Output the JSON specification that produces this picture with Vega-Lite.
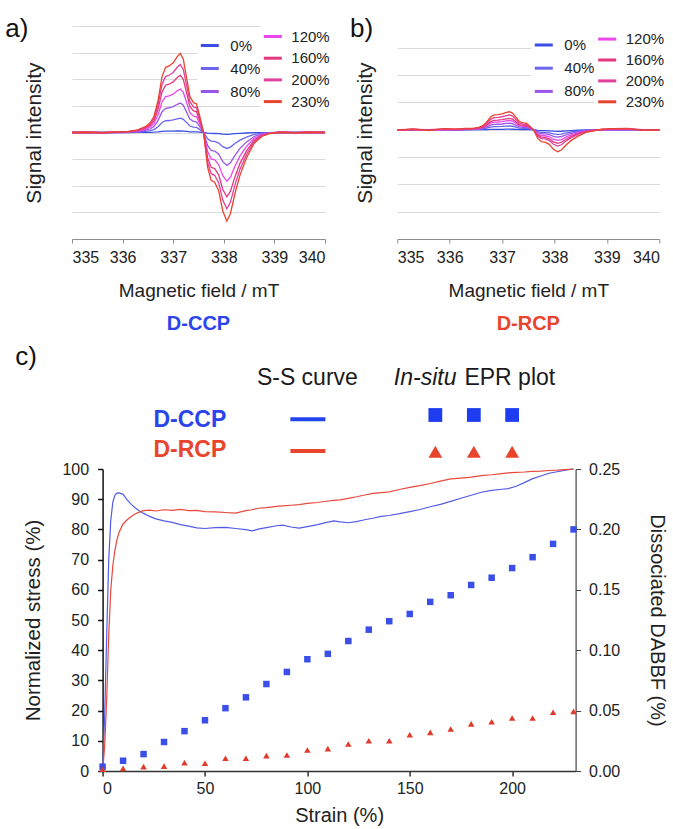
{
"$schema": "https://vega.github.io/schema/vega-lite/v6.json",
"padding": {"left": 5, "top": 16, "right": 4, "bottom": 4},
"background": "white",
"config": {
  "font": "Liberation Sans",
  "view": {"stroke": null},
  "axis": {"titleFontWeight": "normal", "labelColor": "#222222", "titleColor": "#222222", "labelFont": "Liberation Sans", "titleFont": "Liberation Sans"},
  "legend": {"labelFont": "Liberation Sans", "labelColor": "#222222"},
  "title": {"font": "Liberation Sans"},
  "text": {"font": "Liberation Sans"}
},
"datasets": {
  "a": [
    {"f":335.0,"0%":0,"40%":0,"80%":0,"120%":0,"160%":0,"200%":0,"230%":0},
    {"f":335.3,"0%":0,"40%":0,"80%":0,"120%":0.01,"160%":0.01,"200%":0.01,"230%":0.01},
    {"f":335.6,"0%":0,"40%":0,"80%":0,"120%":-0.01,"160%":-0.01,"200%":-0.01,"230%":-0.01},
    {"f":335.9,"0%":0,"40%":0,"80%":0.01,"120%":0.01,"160%":0.01,"200%":0.02,"230%":0.02},
    {"f":336.1,"0%":0,"40%":0.01,"80%":0.01,"120%":0.02,"160%":0.02,"200%":0.03,"230%":0.03},
    {"f":336.3,"0%":0.002,"40%":0.018,"80%":0.037,"120%":0.055,"160%":0.073,"200%":0.086,"230%":0.1},
    {"f":336.45,"0%":0.004,"40%":0.04,"80%":0.082,"120%":0.121,"160%":0.16,"200%":0.189,"230%":0.22},
    {"f":336.55,"0%":0.008,"40%":0.068,"80%":0.141,"120%":0.209,"160%":0.276,"200%":0.327,"230%":0.38},
    {"f":336.62,"0%":0.012,"40%":0.108,"80%":0.223,"120%":0.33,"160%":0.435,"200%":0.516,"230%":0.6},
    {"f":336.7,"0%":0.024,"40%":0.216,"80%":0.446,"120%":0.66,"160%":0.87,"200%":1.032,"230%":1.2},
    {"f":336.78,"0%":0.042,"40%":0.378,"80%":0.781,"120%":1.155,"160%":1.523,"200%":1.806,"230%":2.1},
    {"f":336.85,"0%":0.049,"40%":0.441,"80%":0.911,"120%":1.348,"160%":1.776,"200%":2.107,"230%":2.45},
    {"f":336.92,"0%":0.05,"40%":0.45,"80%":0.93,"120%":1.375,"160%":1.813,"200%":2.15,"230%":2.5},
    {"f":337.0,"0%":0.052,"40%":0.472,"80%":0.975,"120%":1.441,"160%":1.9,"200%":2.253,"230%":2.62},
    {"f":337.08,"0%":0.057,"40%":0.513,"80%":1.06,"120%":1.568,"160%":2.066,"200%":2.451,"230%":2.85},
    {"f":337.14,"0%":0.059,"40%":0.535,"80%":1.105,"120%":1.634,"160%":2.153,"200%":2.554,"230%":2.97},
    {"f":337.2,"0%":0.055,"40%":0.495,"80%":1.023,"120%":1.513,"160%":1.994,"200%":2.365,"230%":2.75},
    {"f":337.27,"0%":0.04,"40%":0.36,"80%":0.744,"120%":1.1,"160%":1.45,"200%":1.72,"230%":2.0},
    {"f":337.33,"0%":0.027,"40%":0.243,"80%":0.502,"120%":0.743,"160%":0.979,"200%":1.161,"230%":1.35},
    {"f":337.4,"0%":0.022,"40%":0.202,"80%":0.417,"120%":0.616,"160%":0.812,"200%":0.963,"230%":1.12},
    {"f":337.46,"0%":0.022,"40%":0.194,"80%":0.402,"120%":0.594,"160%":0.783,"200%":0.929,"230%":1.08},
    {"f":337.52,"0%":0.013,"40%":0.117,"80%":0.242,"120%":0.358,"160%":0.471,"200%":0.559,"230%":0.65},
    {"f":337.6,"0%":0,"40%":0,"80%":0,"120%":0,"160%":0,"200%":0,"230%":0},
    {"f":337.68,"0%":-0.026,"40%":-0.234,"80%":-0.484,"120%":-0.715,"160%":-0.943,"200%":-1.118,"230%":-1.3},
    {"f":337.75,"0%":-0.036,"40%":-0.324,"80%":-0.67,"120%":-0.99,"160%":-1.305,"200%":-1.548,"230%":-1.8},
    {"f":337.82,"0%":-0.037,"40%":-0.337,"80%":-0.696,"120%":-1.029,"160%":-1.356,"200%":-1.608,"230%":-1.87},
    {"f":337.9,"0%":-0.044,"40%":-0.396,"80%":-0.818,"120%":-1.21,"160%":-1.595,"200%":-1.892,"230%":-2.2},
    {"f":337.98,"0%":-0.059,"40%":-0.531,"80%":-1.097,"120%":-1.623,"160%":-2.139,"200%":-2.537,"230%":-2.95},
    {"f":338.06,"0%":-0.067,"40%":-0.599,"80%":-1.239,"120%":-1.832,"160%":-2.414,"200%":-2.864,"230%":-3.33},
    {"f":338.13,"0%":-0.061,"40%":-0.549,"80%":-1.135,"120%":-1.678,"160%":-2.211,"200%":-2.623,"230%":-3.05},
    {"f":338.22,"0%":-0.046,"40%":-0.414,"80%":-0.856,"120%":-1.265,"160%":-1.668,"200%":-1.978,"230%":-2.3},
    {"f":338.32,"0%":-0.032,"40%":-0.288,"80%":-0.595,"120%":-0.88,"160%":-1.16,"200%":-1.376,"230%":-1.6},
    {"f":338.45,"0%":-0.019,"40%":-0.171,"80%":-0.353,"120%":-0.523,"160%":-0.689,"200%":-0.817,"230%":-0.95},
    {"f":338.6,"0%":-0.008,"40%":-0.072,"80%":-0.149,"120%":-0.22,"160%":-0.29,"200%":-0.344,"230%":-0.4},
    {"f":338.75,"0%":-0.003,"40%":-0.027,"80%":-0.056,"120%":-0.083,"160%":-0.109,"200%":-0.129,"230%":-0.15},
    {"f":338.9,"0%":-0.001,"40%":-0.007,"80%":-0.015,"120%":-0.022,"160%":-0.029,"200%":-0.034,"230%":-0.04},
    {"f":339.1,"0%":0,"40%":0,"80%":0,"120%":0.01,"160%":0.01,"200%":0.01,"230%":0.01},
    {"f":339.4,"0%":0,"40%":0,"80%":0,"120%":-0.01,"160%":-0.01,"200%":-0.01,"230%":-0.01},
    {"f":339.7,"0%":0,"40%":0,"80%":0,"120%":0.01,"160%":0.01,"200%":0.01,"230%":0.01},
    {"f":340.0,"0%":0,"40%":0,"80%":0,"120%":0,"160%":0,"200%":0,"230%":0}
  ],
  "b": [
    {"f":335.0,"0%":0,"40%":0,"80%":0,"120%":0,"160%":0,"200%":-0.01,"230%":-0.02},
    {"f":335.3,"0%":0,"40%":0,"80%":0,"120%":0,"160%":0.01,"200%":0.02,"230%":0.03},
    {"f":335.6,"0%":0,"40%":0,"80%":0,"120%":0,"160%":0,"200%":-0.01,"230%":-0.03},
    {"f":335.9,"0%":0,"40%":0,"80%":0,"120%":0.01,"160%":0.02,"200%":0.03,"230%":0.04},
    {"f":336.1,"0%":0,"40%":0,"80%":0,"120%":0,"160%":0.01,"200%":0.02,"230%":0.02},
    {"f":336.3,"0%":0.001,"40%":0.005,"80%":0.008,"120%":0.011,"160%":0.014,"200%":0.018,"230%":0.05},
    {"f":336.45,"0%":0.002,"40%":0.01,"80%":0.018,"120%":0.025,"160%":0.031,"200%":0.04,"230%":0.049},
    {"f":336.55,"0%":0.003,"40%":0.018,"80%":0.031,"120%":0.043,"160%":0.054,"200%":0.069,"230%":0.084},
    {"f":336.62,"0%":0.004,"40%":0.028,"80%":0.049,"120%":0.068,"160%":0.085,"200%":0.109,"230%":0.133},
    {"f":336.7,"0%":0.008,"40%":0.056,"80%":0.097,"120%":0.137,"160%":0.169,"200%":0.218,"230%":0.266},
    {"f":336.78,"0%":0.015,"40%":0.099,"80%":0.17,"120%":0.239,"160%":0.296,"200%":0.382,"230%":0.466},
    {"f":336.85,"0%":0.017,"40%":0.115,"80%":0.198,"120%":0.279,"160%":0.345,"200%":0.446,"230%":0.544},
    {"f":336.92,"0%":0.018,"40%":0.118,"80%":0.203,"120%":0.285,"160%":0.353,"200%":0.455,"230%":0.555},
    {"f":337.0,"0%":0.018,"40%":0.123,"80%":0.212,"120%":0.299,"160%":0.369,"200%":0.477,"230%":0.582},
    {"f":337.08,"0%":0.02,"40%":0.134,"80%":0.231,"120%":0.325,"160%":0.402,"200%":0.519,"230%":0.633},
    {"f":337.14,"0%":0.021,"40%":0.14,"80%":0.241,"120%":0.339,"160%":0.419,"200%":0.541,"230%":0.659},
    {"f":337.2,"0%":0.019,"40%":0.129,"80%":0.223,"120%":0.314,"160%":0.388,"200%":0.501,"230%":0.611},
    {"f":337.27,"0%":0.014,"40%":0.094,"80%":0.162,"120%":0.228,"160%":0.282,"200%":0.364,"230%":0.444},
    {"f":337.33,"0%":0.009,"40%":0.063,"80%":0.109,"120%":0.154,"160%":0.19,"200%":0.246,"230%":0.3},
    {"f":337.4,"0%":0.008,"40%":0.053,"80%":0.091,"120%":0.128,"160%":0.158,"200%":0.204,"230%":0.249},
    {"f":337.46,"0%":0.008,"40%":0.051,"80%":0.087,"120%":0.123,"160%":0.152,"200%":0.197,"230%":0.24},
    {"f":337.52,"0%":0.005,"40%":0.031,"80%":0.053,"120%":0.074,"160%":0.092,"200%":0.118,"230%":0.144},
    {"f":337.6,"0%":0,"40%":0,"80%":0,"120%":0,"160%":0,"200%":0,"230%":0},
    {"f":337.68,"0%":-0.023,"40%":-0.066,"80%":-0.105,"120%":-0.152,"160%":-0.195,"200%":-0.234,"230%":-0.316},
    {"f":337.75,"0%":-0.032,"40%":-0.092,"80%":-0.146,"120%":-0.211,"160%":-0.27,"200%":-0.324,"230%":-0.437},
    {"f":337.82,"0%":-0.034,"40%":-0.095,"80%":-0.151,"120%":-0.219,"160%":-0.281,"200%":-0.337,"230%":-0.454},
    {"f":337.9,"0%":-0.04,"40%":-0.112,"80%":-0.178,"120%":-0.257,"160%":-0.33,"200%":-0.396,"230%":-0.535},
    {"f":337.98,"0%":-0.053,"40%":-0.15,"80%":-0.239,"120%":-0.345,"160%":-0.443,"200%":-0.531,"230%":-0.717},
    {"f":338.06,"0%":-0.06,"40%":-0.17,"80%":-0.27,"120%":-0.39,"160%":-0.5,"200%":-0.599,"230%":-0.809},
    {"f":338.13,"0%":-0.055,"40%":-0.156,"80%":-0.247,"120%":-0.357,"160%":-0.458,"200%":-0.549,"230%":-0.741},
    {"f":338.22,"0%":-0.041,"40%":-0.117,"80%":-0.186,"120%":-0.269,"160%":-0.345,"200%":-0.414,"230%":-0.559},
    {"f":338.32,"0%":-0.029,"40%":-0.082,"80%":-0.13,"120%":-0.187,"160%":-0.24,"200%":-0.288,"230%":-0.389},
    {"f":338.45,"0%":-0.017,"40%":-0.048,"80%":-0.077,"120%":-0.111,"160%":-0.143,"200%":-0.171,"230%":-0.231},
    {"f":338.6,"0%":-0.007,"40%":-0.02,"80%":-0.032,"120%":-0.047,"160%":-0.06,"200%":-0.072,"230%":-0.097},
    {"f":338.75,"0%":-0.003,"40%":-0.008,"80%":-0.012,"120%":-0.018,"160%":-0.023,"200%":-0.027,"230%":-0.036},
    {"f":338.9,"0%":0,"40%":0,"80%":0,"120%":0,"160%":0,"200%":0.01,"230%":0.02},
    {"f":339.1,"0%":0,"40%":0,"80%":0,"120%":0.01,"160%":0.02,"200%":0.03,"230%":0.04},
    {"f":339.4,"0%":0,"40%":0,"80%":0,"120%":0.01,"160%":0.02,"200%":0.04,"230%":0.05},
    {"f":339.7,"0%":0,"40%":0,"80%":0,"120%":0,"160%":0,"200%":-0.01,"230%":-0.02},
    {"f":340.0,"0%":0,"40%":0,"80%":0,"120%":0,"160%":0,"200%":0,"230%":0}
  ],
  "ss": [
    {"s":0,"D-CCP":0,"D-RCP":0},{"s":1,"D-CCP":18,"D-RCP":8},{"s":2,"D-CCP":45,"D-RCP":24},{"s":3,"D-CCP":70,"D-RCP":45},
    {"s":4,"D-CCP":83,"D-RCP":60},{"s":5,"D-CCP":89,"D-RCP":68},{"s":6,"D-CCP":91.3,"D-RCP":73},{"s":7,"D-CCP":92,"D-RCP":76.5},
    {"s":8,"D-CCP":92.1,"D-RCP":79},{"s":10,"D-CCP":91.6,"D-RCP":81.8},{"s":12,"D-CCP":89.8,"D-RCP":83.2},{"s":14,"D-CCP":88.3,"D-RCP":84.3},
    {"s":16,"D-CCP":87.1,"D-RCP":85.2},{"s":18,"D-CCP":86.1,"D-RCP":85.7},{"s":20,"D-CCP":85.3,"D-RCP":86.2},{"s":23,"D-CCP":84.3,"D-RCP":86.4},
    {"s":26,"D-CCP":83.5,"D-RCP":86.1},{"s":30,"D-CCP":82.8,"D-RCP":86.5},{"s":34,"D-CCP":82.3,"D-RCP":86.3},{"s":38,"D-CCP":81.6,"D-RCP":86.6},
    {"s":42,"D-CCP":81.1,"D-RCP":86.2},{"s":46,"D-CCP":80.5,"D-RCP":86.3},{"s":50,"D-CCP":80.3,"D-RCP":85.9},{"s":55,"D-CCP":80.6,"D-RCP":85.8},
    {"s":60,"D-CCP":80.7,"D-RCP":85.6},{"s":65,"D-CCP":80.3,"D-RCP":85.4},{"s":70,"D-CCP":79.9,"D-RCP":86.2},{"s":73,"D-CCP":79.5,"D-RCP":86.5},
    {"s":76,"D-CCP":80.1,"D-RCP":87.0},{"s":80,"D-CCP":80.6,"D-RCP":87.2},{"s":85,"D-CCP":81.2,"D-RCP":87.6},{"s":88,"D-CCP":81.4,"D-RCP":87.8},
    {"s":92,"D-CCP":80.8,"D-RCP":88.0},{"s":96,"D-CCP":80.4,"D-RCP":88.2},{"s":100,"D-CCP":80.9,"D-RCP":88.6},{"s":105,"D-CCP":81.6,"D-RCP":88.9},
    {"s":110,"D-CCP":82.4,"D-RCP":89.4},{"s":113,"D-CCP":82.8,"D-RCP":89.6},{"s":116,"D-CCP":82.5,"D-RCP":89.8},{"s":120,"D-CCP":82.2,"D-RCP":90.3},
    {"s":124,"D-CCP":82.6,"D-RCP":90.8},{"s":128,"D-CCP":83.2,"D-RCP":91.4},{"s":132,"D-CCP":83.7,"D-RCP":91.9},{"s":136,"D-CCP":84.3,"D-RCP":92.2},
    {"s":140,"D-CCP":84.6,"D-RCP":92.4},{"s":145,"D-CCP":85.2,"D-RCP":93.2},{"s":150,"D-CCP":85.9,"D-RCP":93.9},{"s":155,"D-CCP":86.6,"D-RCP":94.5},
    {"s":160,"D-CCP":87.5,"D-RCP":95.2},{"s":165,"D-CCP":88.3,"D-RCP":96.0},{"s":170,"D-CCP":89.3,"D-RCP":96.7},{"s":175,"D-CCP":90.3,"D-RCP":97.0},
    {"s":180,"D-CCP":91.3,"D-RCP":97.3},{"s":185,"D-CCP":92.3,"D-RCP":97.8},{"s":190,"D-CCP":92.9,"D-RCP":98.1},{"s":195,"D-CCP":93.3,"D-RCP":98.5},
    {"s":198,"D-CCP":93.5,"D-RCP":98.7},{"s":202,"D-CCP":94.3,"D-RCP":98.9},{"s":206,"D-CCP":95.5,"D-RCP":99.0},{"s":210,"D-CCP":96.8,"D-RCP":99.2},
    {"s":214,"D-CCP":97.7,"D-RCP":99.3},{"s":218,"D-CCP":98.6,"D-RCP":99.5},{"s":222,"D-CCP":99.1,"D-RCP":99.6},{"s":226,"D-CCP":99.6,"D-RCP":99.8},
    {"s":230,"D-CCP":100,"D-RCP":100}
  ],
  "epr": [
    {"s":0,"D-CCP":0.0036,"D-RCP":0.0014},{"s":10,"D-CCP":0.0085,"D-RCP":0.0022},{"s":20,"D-CCP":0.014,"D-RCP":0.0036},
    {"s":30,"D-CCP":0.024,"D-RCP":0.004},{"s":40,"D-CCP":0.033,"D-RCP":0.0069},{"s":50,"D-CCP":0.042,"D-RCP":0.0064},
    {"s":60,"D-CCP":0.052,"D-RCP":0.0105},{"s":70,"D-CCP":0.061,"D-RCP":0.0105},{"s":80,"D-CCP":0.072,"D-RCP":0.0127},
    {"s":90,"D-CCP":0.082,"D-RCP":0.0132},{"s":100,"D-CCP":0.0925,"D-RCP":0.0174},{"s":110,"D-CCP":0.097,"D-RCP":0.0185},
    {"s":120,"D-CCP":0.1076,"D-RCP":0.0224},{"s":130,"D-CCP":0.117,"D-RCP":0.025},{"s":140,"D-CCP":0.124,"D-RCP":0.025},
    {"s":150,"D-CCP":0.13,"D-RCP":0.03},{"s":160,"D-CCP":0.14,"D-RCP":0.032},{"s":170,"D-CCP":0.1455,"D-RCP":0.0348},
    {"s":180,"D-CCP":0.154,"D-RCP":0.039},{"s":190,"D-CCP":0.16,"D-RCP":0.0408},{"s":200,"D-CCP":0.168,"D-RCP":0.0439},
    {"s":210,"D-CCP":0.177,"D-RCP":0.0439},{"s":220,"D-CCP":0.188,"D-RCP":0.0486},{"s":230,"D-CCP":0.2,"D-RCP":0.0494}
  ]
},
"bounds": "flush",
"spacing": 314,
"vconcat": [
  {
    "bounds": "flush",
    "spacing": 72.3,
    "hconcat": [
      {
        "width": 253, "height": 213,
        "title": {"text": "D-CCP", "orient": "bottom", "anchor": "middle", "fontSize": 20, "fontWeight": "bold", "color": "#2a45ea", "offset": 13.5},
        "encoding": {
          "x": {"field": "f", "type": "quantitative", "scale": {"domain": [335, 340], "nice": false, "zero": false},
                "axis": {"values": [335, 336, 337, 338, 339, 340], "grid": false, "domainColor": "#8c8c8c", "tickColor": "#8c8c8c", "tickSize": 4, "labelFontSize": 16, "labelPadding": 6, "title": "Magnetic field / mT", "titleFontSize": 19, "titlePadding": 16}},
          "y": {"field": "v", "type": "quantitative", "scale": {"domain": [-4, 4], "nice": false, "zero": false},
                "axis": {"values": [-3, -2, -1, 0, 1, 2, 3, 4], "labels": false, "ticks": false, "domain": false, "grid": true, "gridColor": "#dadada", "title": "Signal intensity", "titleFontSize": 21, "titlePadding": 28}}
        },
        "layer": [
          {
            "data": {"name": "a"},
            "transform": [{"fold": ["0%", "40%", "80%", "120%", "160%", "200%", "230%"], "as": ["strain", "v"]}, {"filter": {"field": "strain", "oneOf": ["0%", "40%", "80%"]}}],
            "mark": {"type": "line", "strokeWidth": 1.3},
            "encoding": {"color": {"field": "strain", "type": "nominal", "scale": {"domain": ["0%", "40%", "80%"], "range": ["#3a4ee6", "#6b66ec", "#9a56e6"]},
              "legend": {"title": null, "orient": "none", "legendX": 125.3, "legendY": 7, "symbolType": "stroke", "symbolSize": 324, "symbolStrokeWidth": 3, "labelFontSize": 15, "labelOffset": 10, "rowPadding": 4, "padding": 2, "fillColor": "white"}}}
          },
          {
            "data": {"name": "a"},
            "transform": [{"fold": ["0%", "40%", "80%", "120%", "160%", "200%", "230%"], "as": ["strain", "v"]}, {"filter": {"field": "strain", "oneOf": ["120%", "160%", "200%", "230%"]}}],
            "mark": {"type": "line", "strokeWidth": 1.3},
            "encoding": {"color": {"field": "strain", "type": "nominal", "scale": {"domain": ["120%", "160%", "200%", "230%"], "range": ["#ea46ec", "#e2377e", "#e23f9c", "#e8432e"]},
              "legend": {"title": null, "orient": "none", "legendX": 188.3, "legendY": -2, "symbolType": "stroke", "symbolSize": 324, "symbolStrokeWidth": 3, "labelFontSize": 15, "labelOffset": 8, "rowPadding": 2.7, "padding": 2, "fillColor": "white"}}}
          },
          {
            "data": {"values": [{"f": 333.68, "v": 3.887, "t": "a)"}]},
            "mark": {"type": "text", "fontSize": 26, "align": "left", "baseline": "middle", "color": "#111111"},
            "encoding": {"text": {"field": "t"}}
          }
        ],
        "resolve": {"scale": {"color": "independent"}}
      },
      {
        "width": 262, "height": 213,
        "title": {"text": "D-RCP", "orient": "bottom", "anchor": "middle", "fontSize": 20, "fontWeight": "bold", "color": "#e8452c", "offset": 13.5},
        "encoding": {
          "x": {"field": "f", "type": "quantitative", "scale": {"domain": [335, 340], "nice": false, "zero": false},
                "axis": {"values": [335, 336, 337, 338, 339, 340], "grid": false, "domainColor": "#8c8c8c", "tickColor": "#8c8c8c", "tickSize": 4, "labelFontSize": 16, "labelPadding": 6, "title": "Magnetic field / mT", "titleFontSize": 19, "titlePadding": 16}},
          "y": {"field": "v", "type": "quantitative", "scale": {"domain": [-4, 3.8], "nice": false, "zero": false},
                "axis": {"values": [-3, -2, -1, 0, 1, 2, 3], "labels": false, "ticks": false, "domain": false, "grid": true, "gridColor": "#dadada", "title": "Signal intensity", "titleFontSize": 21, "titlePadding": 22}}
        },
        "layer": [
          {
            "data": {"name": "b"},
            "transform": [{"fold": ["0%", "40%", "80%", "120%", "160%", "200%", "230%"], "as": ["strain", "v"]}, {"filter": {"field": "strain", "oneOf": ["0%", "40%", "80%"]}}],
            "mark": {"type": "line", "strokeWidth": 1.3},
            "encoding": {"color": {"field": "strain", "type": "nominal", "scale": {"domain": ["0%", "40%", "80%"], "range": ["#3a4ee6", "#6b66ec", "#9a56e6"]},
              "legend": {"title": null, "orient": "none", "legendX": 134, "legendY": 6.5, "symbolType": "stroke", "symbolSize": 324, "symbolStrokeWidth": 3, "labelFontSize": 15, "labelOffset": 10, "rowPadding": 4.2, "padding": 2, "fillColor": "white"}}}
          },
          {
            "data": {"name": "b"},
            "transform": [{"fold": ["0%", "40%", "80%", "120%", "160%", "200%", "230%"], "as": ["strain", "v"]}, {"filter": {"field": "strain", "oneOf": ["120%", "160%", "200%", "230%"]}}],
            "mark": {"type": "line", "strokeWidth": 1.3},
            "encoding": {"color": {"field": "strain", "type": "nominal", "scale": {"domain": ["120%", "160%", "200%", "230%"], "range": ["#ea46ec", "#e2377e", "#e23f9c", "#e8432e"]},
              "legend": {"title": null, "orient": "none", "legendX": 197.4, "legendY": 0.6, "symbolType": "stroke", "symbolSize": 324, "symbolStrokeWidth": 3, "labelFontSize": 15, "labelOffset": 8, "rowPadding": 1.9, "padding": 2, "fillColor": "white"}}}
          },
          {
            "data": {"values": [{"f": 334.097, "v": 3.69, "t": "b)"}]},
            "mark": {"type": "text", "fontSize": 26, "align": "left", "baseline": "middle", "color": "#111111"},
            "encoding": {"text": {"field": "t"}}
          }
        ],
        "resolve": {"scale": {"color": "independent"}}
      }
    ]
  },
  {
    "bounds": "flush",
    "spacing": 29.6,
    "hconcat": [
      {"width": 1, "height": 1, "data": {"values": []}, "mark": "point"},
      {
        "bounds": "flush",
        "spacing": 9,
        "vconcat": [
          {
            "width": 473, "height": 120,
            "encoding": {
              "x": {"field": "x", "type": "quantitative", "scale": {"domain": [0, 231], "nice": false}, "axis": null},
              "y": {"field": "y", "type": "quantitative", "scale": {"domain": [0, 100], "nice": false}, "axis": null}
            },
            "layer": [
              {
                "data": {"values": [{"g": "D-CCP", "x": 91.7, "x2": 108.8, "y": 33.9}, {"g": "D-RCP", "x": 91.7, "x2": 108.8, "y": 7.5}]},
                "mark": {"type": "rule", "strokeWidth": 4},
                "encoding": {"x2": {"field": "x2"}, "color": {"field": "g", "type": "nominal", "scale": {"domain": ["D-CCP", "D-RCP"], "range": ["#2244ee", "#e8452c"]}, "legend": null}}
              },
              {
                "data": {"values": [{"g": "D-CCP", "x": 162.5, "y": 37.5}, {"g": "D-CCP", "x": 181.3, "y": 37.5}, {"g": "D-CCP", "x": 200, "y": 37.5}, {"g": "D-RCP", "x": 162.5, "y": 6.9}, {"g": "D-RCP", "x": 181.3, "y": 6.9}, {"g": "D-RCP", "x": 200, "y": 6.9}]},
                "mark": {"type": "point", "filled": true, "opacity": 1, "size": 190},
                "encoding": {
                  "shape": {"field": "g", "type": "nominal", "scale": {"domain": ["D-CCP", "D-RCP"], "range": ["square", "triangle-up"]}, "legend": null},
                  "color": {"field": "g", "type": "nominal", "scale": {"domain": ["D-CCP", "D-RCP"], "range": ["#1e3cf0", "#e8442c"]}, "legend": null}
                }
              },
              {
                "data": {"values": [{"g": "D-CCP", "t": "D-CCP", "x": 42.6, "y": 33.3}, {"g": "D-RCP", "t": "D-RCP", "x": 42.6, "y": 8.3}]},
                "mark": {"type": "text", "fontSize": 23, "fontWeight": "bold", "align": "center", "baseline": "middle"},
                "encoding": {"text": {"field": "t"}, "color": {"field": "g", "type": "nominal", "scale": {"domain": ["D-CCP", "D-RCP"], "range": ["#2a45ea", "#e8452c"]}, "legend": null}}
              },
              {
                "data": {"values": [{"t": "S-S curve", "x": 100, "y": 68.75}]},
                "mark": {"type": "text", "fontSize": 23, "align": "center", "baseline": "middle", "color": "#1a1a1a"},
                "encoding": {"text": {"field": "t"}}
              },
              {
                "data": {"values": [{"t": "In-situ", "x": 172.8, "y": 68.75}]},
                "mark": {"type": "text", "fontSize": 23, "fontStyle": "italic", "align": "right", "baseline": "middle", "color": "#1a1a1a"},
                "encoding": {"text": {"field": "t"}}
              },
              {
                "data": {"values": [{"t": "EPR plot", "x": 176.7, "y": 68.75}]},
                "mark": {"type": "text", "fontSize": 23, "align": "left", "baseline": "middle", "color": "#1a1a1a"},
                "encoding": {"text": {"field": "t"}}
              },
              {
                "data": {"values": [{"t": "c)", "x": -42.6, "y": 85.8}]},
                "mark": {"type": "text", "fontSize": 26, "align": "left", "baseline": "middle", "color": "#111111"},
                "encoding": {"text": {"field": "t"}}
              }
            ],
            "resolve": {"scale": {"color": "independent"}}
          },
          {
            "width": 473, "height": 302,
            "encoding": {
              "x": {"field": "s", "type": "quantitative", "scale": {"domain": [0, 231], "nice": false},
                    "axis": {"values": [0, 50, 100, 150, 200], "grid": false, "domainColor": "#333333", "domainWidth": 1.5, "tickColor": "#333333", "tickWidth": 1.5, "tickSize": 5, "labelFontSize": 16, "labelPadding": 4, "title": "Strain (%)", "titleFontSize": 20, "titlePadding": 9.5}}
            },
            "layer": [
              {
                "data": {"name": "ss"},
                "transform": [{"fold": ["D-CCP", "D-RCP"], "as": ["g", "v"]}],
                "mark": {"type": "line", "strokeWidth": 1.2},
                "encoding": {
                  "y": {"field": "v", "type": "quantitative", "scale": {"domain": [0, 100], "nice": false},
                        "axis": {"orient": "left", "values": [0, 10, 20, 30, 40, 50, 60, 70, 80, 90, 100], "grid": false, "domainColor": "#111111", "domainWidth": 1.5, "tickColor": "#111111", "tickWidth": 1.5, "tickSize": 5, "labelFontSize": 16, "labelPadding": 9, "title": "Normalized stress (%)", "titleFontSize": 20.5, "titlePadding": 18}},
                  "color": {"field": "g", "type": "nominal", "scale": {"domain": ["D-CCP", "D-RCP"], "range": ["#525ce6", "#e8493c"]}, "legend": null}
                }
              },
              {
                "data": {"name": "epr"},
                "transform": [{"fold": ["D-CCP", "D-RCP"], "as": ["g", "d"]}],
                "mark": {"type": "point", "filled": true, "opacity": 1, "size": 42},
                "encoding": {
                  "y": {"field": "d", "type": "quantitative", "scale": {"domain": [0, 0.25], "nice": false},
                        "axis": {"orient": "right", "values": [0, 0.05, 0.1, 0.15, 0.2, 0.25], "format": ".2f", "grid": false, "domainColor": "#444444", "domainWidth": 1.2, "tickColor": "#444444", "tickSize": 5, "labelFontSize": 16, "labelPadding": 8, "title": "Dissociated DABBF (%)", "titleFontSize": 20, "titlePadding": 27}},
                  "shape": {"field": "g", "type": "nominal", "scale": {"domain": ["D-CCP", "D-RCP"], "range": ["square", "triangle-up"]}, "legend": null},
                  "color": {"field": "g", "type": "nominal", "scale": {"domain": ["D-CCP", "D-RCP"], "range": ["#3a4ee8", "#e03a2a"]}, "legend": null}
                }
              }
            ],
            "resolve": {"scale": {"y": "independent", "color": "independent", "shape": "independent"}}
          }
        ]
      }
    ]
  }
]
}
